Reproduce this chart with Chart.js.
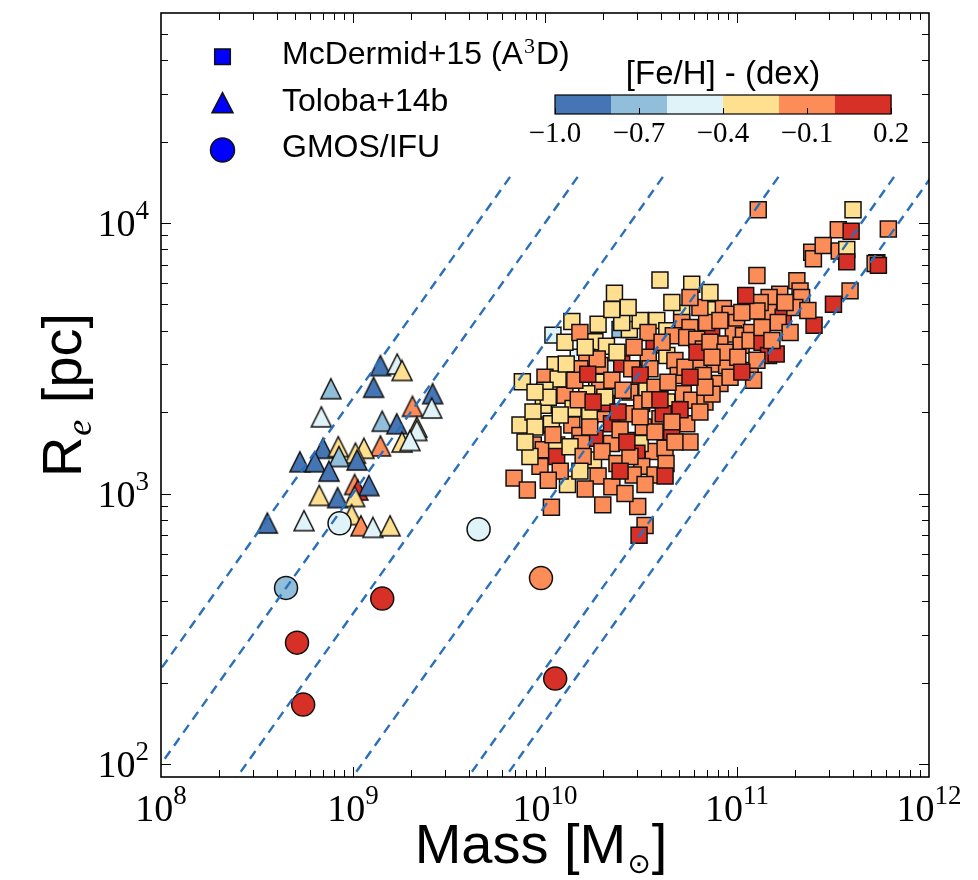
<!DOCTYPE html>
<html>
<head>
<meta charset="utf-8">
<script src="https://cdn.jsdelivr.net/npm/chart.js@4/dist/chart.umd.min.js"></script>
<style>
  html, body { margin: 0; padding: 0; background: #ffffff; }
  #c { display: block; }
</style>
</head>
<body>
<canvas id="c" width="978" height="880"></canvas>
<script>
// ---- ATLAS3D galaxies (McDermid+15): stellar mass [Msun], effective radius [pc], [Fe/H] [dex]
const a3dMass = [
  3.37e11, 3.93e11, 6.14e11, 2.45e11, 2.50e11, 2.81e11, 3.41e11, 3.73e11, 3.73e11, 5.35e11,
  5.24e11, 5.45e11, 1.27e11, 3.97e10, 5.81e10, 2.30e10, 2.05e11, 2.13e11, 2.17e11, 1.67e11,
  1.47e11, 3.18e11, 3.88e11, 2.52e11, 1.17e11, 1.46e11, 1.74e11, 1.64e11, 7.23e10, 8.49e10,
  9.20e10, 9.96e10, 1.32e11, 1.27e11, 5.15e10, 3.82e10, 1.38e10, 1.10e10, 2.46e10, 2.75e10,
  2.51e10, 5.15e10, 5.69e10, 7.38e10, 6.95e10, 9.57e10, 1.08e11, 1.19e11, 8.15e10, 1.05e11,
  1.17e11, 1.35e11, 1.46e11, 1.60e11, 1.17e11, 1.22e11, 4.31e10, 4.66e10, 5.47e10, 3.70e10,
  6.17e10, 6.68e10, 7.84e10, 1.82e10, 2.09e10, 1.49e10, 1.65e10, 1.13e10, 1.00e10, 1.17e10,
  7.62e9,  2.14e10, 2.51e10, 2.83e10, 4.31e10, 3.45e10, 3.52e10, 4.75e10, 4.94e10, 6.41e10,
  7.67e10, 8.83e10, 6.68e10, 8.15e10, 1.93e10, 1.52e10, 1.86e10, 1.93e10, 1.65e10, 1.27e10,
  1.00e10, 9.80e9,  1.40e10, 1.71e10, 2.06e10, 2.09e10, 2.77e10, 3.39e10, 2.66e10, 3.19e10,
  4.31e10, 3.97e10, 4.13e10, 5.25e10, 5.81e10, 6.81e10, 5.47e10, 4.57e10, 7.41e9,  1.00e10,
  1.08e10, 1.38e10, 1.52e10, 1.82e10, 1.71e10, 2.22e10, 2.22e10, 2.77e10, 3.25e10, 3.66e10,
  4.22e10, 3.13e10, 8.69e9,  9.80e9,  1.15e10, 1.15e10, 1.79e10, 1.55e10, 3.01e10, 3.19e10,
  2.88e10, 3.74e10, 6.90e9,  8.09e9,  1.31e10, 1.08e10, 2.00e10, 3.04e10, 3.32e10, 3.09e10,
  1.29e11, 4.02e11,
  1.27e10, 1.52e10, 1.89e10, 3.13e10, 3.44e10, 4.07e10, 2.91e10, 2.37e10, 1.87e10, 1.29e10,
  1.43e10, 1.67e10, 2.23e10, 2.55e10, 3.13e10, 3.74e10, 4.37e10, 5.36e10, 6.19e10, 7.23e10,
  8.66e10, 1.01e11, 1.35e11, 1.52e11, 1.89e11, 2.00e11, 1.78e11, 2.34e11, 9.20e10, 7.41e10,
  6.41e10, 5.05e10, 3.74e10, 3.13e10, 2.46e10, 2.05e10, 1.49e10, 1.20e10, 1.10e10, 1.35e10,
  1.58e10, 1.98e10, 2.37e10, 2.77e10, 2.40e10, 3.52e10, 4.58e10, 5.69e10, 6.81e10, 5.69e10,
  1.20e10, 1.52e10, 1.89e10, 2.23e10, 2.61e10, 1.62e10, 9.42e9,  8.35e9,  1.04e10, 2.46e10,
  4.27e10, 4.75e10, 3.97e10, 1.06e11, 1.11e11, 8.15e10, 6.41e10, 4.58e10, 5.69e10, 7.23e10,
  2.71e10, 2.23e10, 1.62e10, 1.78e10, 1.04e10, 8.66e9,  8.87e9,  8.87e9,  7.87e9,  2.67e10,
  3.32e10, 4.22e10, 7.41e10, 1.27e11, 1.06e11
];
const a3dRe = [
  9440, 9310, 9500, 7800, 7380, 8260, 7870, 7980, 7180, 7130,
  7080, 6970, 6400, 6150, 5930, 5500, 6110, 5610, 5300, 5450,
  5300, 5010, 5610, 4190, 5010, 4670, 4480, 4290, 4780, 4830,
  4600, 4290, 5080, 4730, 4640, 4360, 4320, 3850, 4040, 4040,
  4290, 4290, 4110, 3940, 4290, 3890, 3830, 3940, 3570, 3530,
  3680, 3620, 3240, 3280, 2850, 2620, 4000, 3830, 3770, 3540,
  3720, 3420, 3280, 3640, 3500, 3190, 3190, 2990, 2690, 2650,
  2590, 2890, 3010, 2890, 3240, 3190, 2890, 3100, 2730, 3060,
  3010, 2970, 2730, 2550, 2970, 2890, 2580, 2410, 2340, 2310,
  2410, 2120, 2060, 1950, 1970, 2150, 2370, 2440, 1970, 2150,
  2180, 1890, 1970, 2340, 2210, 2180, 1810, 1690, 1790, 1790,
  1810, 1790, 1640, 1600, 1760, 1530, 1810, 1570, 1760, 1430,
  1470, 1530, 1510, 1450, 1510, 1370, 1330, 1530, 1410, 1260,
  1170, 1170, 1140, 1030, 1080,  889,  908,  896,  762,  701,
  11200, 11200,
  3620, 3940, 4220, 4360, 3940, 3620, 3470, 3330, 3140, 3010,
  2620, 2760, 2620, 2410, 2740, 2470, 2580, 2930, 3330, 3620,
  3330, 3190, 4110, 3680, 3940, 4870, 5080, 4750, 2690, 2330,
  2000, 2040, 1690, 1920, 1720, 2270, 2220, 1950, 1650, 1490,
  1370, 1430, 1290, 1370, 2000, 2220, 1840, 1550, 2470, 2690,
  1210, 1210, 1160, 1060, 1000, 1040, 1260, 1370, 1120, 1210,
  1290, 1550, 2220, 4670, 5390, 4360, 4870, 5080, 5300, 5530,
  4870, 4790, 3470, 2180, 2270, 2000, 2370, 1760, 1550, 1550,
  1080, 1160, 3190, 3110, 2810
];
const a3dFeH = [
  -0.1, 0.1, -0.1, -0.1, -0.1, -0.1, -0.1, -0.3, 0.1, 0.1,
  -0.1, 0.1, -0.1, -0.3, -0.3, -0.3, -0.1, -0.1, -0.1, -0.1,
  -0.1, 0.1, -0.1, 0.1, -0.3, -0.1, 0.1, -0.1, -0.3, -0.1,
  -0.1, -0.1, -0.1, -0.1, -0.3, -0.3, -0.3, -0.5, -0.7, -0.3,
  -0.3, -0.1, -0.1, 0.1, -0.1, -0.1, -0.1, -0.1, -0.1, -0.1,
  -0.1, 0.1, 0.1, 0.1, -0.1, -0.1, -0.3, -0.1, -0.1, 0.1,
  -0.1, -0.1, -0.1, -0.3, -0.3, -0.5, -0.1, -0.3, -0.1, -0.3,
  -0.3, -0.5, 0.1, -0.1, -0.3, -0.1, -0.1, -0.1, -0.1, -0.1,
  -0.1, -0.1, -0.1, -0.1, -0.1, -0.1, -0.3, -0.1, -0.3, -0.1,
  -0.3, -0.3, -0.3, -0.3, -0.1, 0.1, -0.1, -0.3, -0.1, -0.1,
  -0.3, -0.1, 0.1, -0.1, -0.1, -0.1, -0.1, 0.1, -0.3, -0.3,
  -0.3, -0.1, -0.1, 0.1, -0.1, -0.1, 0.1, -0.1, -0.1, -0.1,
  -0.1, -0.3, -0.1, -0.1, -0.3, 0.1, -0.3, -0.1, 0.1, -0.1,
  -0.1, -0.1, -0.1, -0.1, -0.3, -0.1, -0.1, -0.1, -0.1, 0.1,
  -0.1, -0.3,
  -0.3, -0.1, -0.3, -0.3, -0.1, -0.1, -0.1, -0.3, -0.1, -0.3,
  -0.1, 0.1, -0.1, -0.1, 0.1, -0.1, -0.1, -0.1, 0.1, -0.1,
  -0.1, -0.1, -0.1, -0.1, -0.1, -0.1, -0.1, -0.1, -0.1, -0.1,
  -0.1, 0.1, -0.1, -0.1, -0.1, -0.3, -0.1, -0.3, -0.1, -0.3,
  -0.1, -0.1, -0.1, -0.1, 0.1, -0.1, -0.1, -0.1, -0.1, 0.1,
  -0.1, -0.3, -0.1, -0.1, -0.1, -0.1, -0.1, -0.3, -0.1, 0.1,
  -0.1, -0.1, 0.1, -0.1, 0.1, -0.1, -0.1, -0.3, -0.1, -0.3,
  -0.3, -0.3, -0.3, 0.1, -0.3, -0.3, -0.3, -0.3, -0.3, 0.1,
  -0.1, 0.1, -0.1, -0.1, 0.1
];

// ---- Toloba+14b dwarf early-types
const tolobaMass = [
  1.39e9, 1.70e9, 1.80e9, 7.67e8, 1.28e9, 2.60e9, 2.04e9, 2.57e9, 6.84e8, 1.42e9,
  1.69e9, 2.15e9, 2.15e9, 1.80e9, 1.98e9, 6.98e8, 8.38e8, 1.39e9, 1.14e9, 1.03e9,
  8.45e8, 5.29e8, 6.34e8, 1.05e9, 7.50e8, 1.02e9, 1.06e9, 1.21e9, 6.67e8, 8.32e8,
  1.02e9, 3.58e8, 5.56e8, 9.84e8, 1.10e9, 1.27e9, 1.56e9
];
const tolobaRe = [
  2970, 3010, 2850, 2440, 2470, 2340, 2100, 2070, 1920, 1850,
  1810, 1760, 1710, 1550, 1570, 1470, 1490, 1500, 1470, 1410,
  1370, 1310, 1310, 1330, 1210, 1080, 1030, 1070, 984, 966,
  975, 778, 794, 836, 760, 750, 760
];
const tolobaFeH = [
  -0.9, -0.5, -0.3, -0.7, -0.9, -0.9, -0.1, -0.5, -0.5, -0.7,
  -0.9, -0.3, -0.5, -0.3, -0.5, -0.9, -0.3, -0.1, -0.3, -0.3,
  -0.7, -0.9, -0.9, -0.9, -0.9, -0.1, 0.1, -0.9, -0.3, -0.9,
  -0.3, -0.9, -0.5, -0.3, -0.1, -0.5, -0.3
];

// ---- GMOS/IFU sample
const gmosMass = [4.48e8, 5.11e8, 5.50e8, 8.51e8, 1.42e9, 4.51e9, 9.53e9, 1.13e10];
const gmosRe   = [448, 281, 166, 776, 409, 738, 487, 207];
const gmosFeH  = [-0.7, 0.1, 0.1, -0.5, 0.1, -0.5, -0.1, 0.1];

// ---- lines of constant velocity dispersion: M = K * sigma^2 * Re
const sigmaLines = [10, 15, 25, 50, 100, 125];   // km/s
const K_VIR = 1e6 / 225;                          // Msun pc^-1 (km/s)^-2
const lineRe = [14800, 10];                       // pc, drawn from the upper end down

// ---- colour bar
const fehTicks = [-1.0, -0.7, -0.4, -0.1, 0.2];
const fehMin = -1.0, fehMax = 0.2;
const fehColors = ['#4575b4', '#91bfdb', '#e0f3f8', '#fee090', '#fc8d59', '#d73027'];

// ---- axes
const massRange = [1e8, 1e12];
const reRange = [89.6, 59700];
const massDecades = [8, 9, 10, 11, 12];
const reDecades = [2, 3, 4];

const SERIF = '"Liberation Serif", "DejaVu Serif", serif';
const SANS = '"Liberation Sans", Arial, sans-serif';
const EDGE = '#111111';

function fehColor(v) {
  const step = (fehMax - fehMin) / fehColors.length;
  let i = Math.floor((v - fehMin) / step + 1e-9);
  i = Math.max(0, Math.min(fehColors.length - 1, i));
  return fehColors[i];
}

function triangleImage(fill, size) {
  const pad = 2, c = document.createElement('canvas');
  c.width = c.height = size + 2 * pad;
  const g = c.getContext('2d');
  g.beginPath();
  g.moveTo(pad + size / 2, pad);
  g.lineTo(pad + size, pad + size);
  g.lineTo(pad, pad + size);
  g.closePath();
  g.fillStyle = fill; g.fill();
  g.lineWidth = 1.5; g.strokeStyle = EDGE; g.lineJoin = 'miter'; g.stroke();
  return c;
}

const pts = (ms, rs) => ms.map((m, i) => ({ x: m, y: rs[i] }));

const lineSets = sigmaLines.map(s => ({
  type: 'line',
  data: lineRe.map(r => ({ x: K_VIR * s * s * r, y: r })),
  borderColor: '#2a6fba',
  borderWidth: 2.4,
  borderDash: [9.5, 6.5],
  pointRadius: 0,
  fill: false,
  clip: 0
}));

const datasets = [
  ...lineSets,
  {
    label: 'GMOS/IFU',
    data: pts(gmosMass, gmosRe),
    pointStyle: 'circle',
    pointRadius: 11.5,
    backgroundColor: gmosFeH.map(fehColor),
    borderColor: EDGE,
    borderWidth: 1.5
  },
  {
    label: 'Toloba+14b',
    data: pts(tolobaMass, tolobaRe),
    pointStyle: tolobaFeH.map(v => triangleImage(fehColor(v), 20)),
    pointRadius: 11,
    backgroundColor: tolobaFeH.map(fehColor),
    borderColor: EDGE,
    borderWidth: 1.5
  },
  {
    label: 'McDermid+15',
    data: pts(a3dMass, a3dRe),
    pointStyle: 'rect',
    pointRadius: 11.3,
    backgroundColor: a3dFeH.map(fehColor),
    borderColor: EDGE,
    borderWidth: 1.5
  }
];

// x^n style label: base and superscript
function drawPower(ctx, base, exp, x, y, align, baseSize, expSize, rise) {
  ctx.font = baseSize + 'px ' + SERIF;
  const wb = ctx.measureText(base).width;
  ctx.font = expSize + 'px ' + SERIF;
  const we = ctx.measureText(exp).width;
  const total = wb + we;
  let x0 = align === 'center' ? x - total / 2 : (align === 'right' ? x - total : x);
  ctx.textAlign = 'left';
  ctx.textBaseline = 'alphabetic';
  ctx.font = baseSize + 'px ' + SERIF;
  ctx.fillText(base, x0, y);
  ctx.font = expSize + 'px ' + SERIF;
  ctx.fillText(exp, x0 + wb, y - rise);
}

const decorations = {
  id: 'decorations',
  afterDatasetsDraw(chart) {
    const { ctx, chartArea: a, scales } = chart;
    const xs = scales.x, ys = scales.y;
    ctx.save();
    ctx.fillStyle = '#000';
    ctx.strokeStyle = '#000';

    // inward ticks on all four sides
    ctx.lineWidth = 1;
    const seg = (x1, y1, x2, y2) => { ctx.beginPath(); ctx.moveTo(x1, y1); ctx.lineTo(x2, y2); ctx.stroke(); };
    for (let d = 7; d <= 12; d++) {
      for (let k = 1; k <= 9; k++) {
        const v = k * Math.pow(10, d);
        if (v < massRange[0] * 1.001 || v > massRange[1] * 0.999) continue;
        const px = Math.round(xs.getPixelForValue(v)) + 0.5;
        const len = k === 1 ? 10 : 7;
        seg(px, a.bottom, px, a.bottom - len);
        seg(px, a.top, px, a.top + len);
      }
    }
    for (let d = 1; d <= 4; d++) {
      for (let k = 1; k <= 9; k++) {
        const v = k * Math.pow(10, d);
        if (v < reRange[0] * 1.01 || v > reRange[1] * 0.99) continue;
        const py = Math.round(ys.getPixelForValue(v)) + 0.5;
        const len = k === 1 ? 10 : 7;
        seg(a.left, py, a.left + len, py);
        seg(a.right, py, a.right - len, py);
      }
    }

    // frame
    ctx.lineWidth = 1.6;
    ctx.strokeRect(a.left, a.top, a.right - a.left, a.bottom - a.top);

    // tick labels
    massDecades.forEach(d => {
      const px = xs.getPixelForValue(Math.pow(10, d));
      drawPower(ctx, '10', String(d), px, 821, 'center', 38, 27, 17);
    });
    reDecades.forEach(d => {
      const py = ys.getPixelForValue(Math.pow(10, d));
      drawPower(ctx, '10', String(d), 149, py + 13, 'right', 38, 27, 17);
    });

    // x title: Mass [M_sun]
    {
      const big = '56px ' + SANS;
      const sunFont = '28px "DejaVu Sans", sans-serif';
      ctx.font = big;
      const w1 = ctx.measureText('Mass [M').width;
      ctx.font = sunFont;
      const w2 = ctx.measureText('\u2299').width;
      ctx.font = big;
      const w3 = ctx.measureText(']').width;
      const x0 = 540 - (w1 + w2 + w3) / 2;
      const yb = 863;
      ctx.textAlign = 'left';
      ctx.font = big; ctx.fillText('Mass [M', x0, yb);
      ctx.font = sunFont; ctx.fillText('\u2299', x0 + w1 + 1, yb + 10);
      ctx.font = big; ctx.fillText(']', x0 + w1 + w2 + 2, yb);
    }

    // y title: R_e [pc]
    {
      ctx.save();
      ctx.translate(81, 396);
      ctx.rotate(-Math.PI / 2);
      const big = '56px ' + SANS;
      const sub = 'italic 36px ' + SERIF;
      ctx.font = big; const wR = ctx.measureText('R').width;
      ctx.font = sub; const wE = ctx.measureText('e').width;
      ctx.font = big; const wP = ctx.measureText(' [pc]').width;
      const x0 = -(wR + wE + wP) / 2;
      ctx.textAlign = 'left';
      ctx.font = big; ctx.fillText('R', x0, 0);
      ctx.font = sub; ctx.fillText('e', x0 + wR + 1, 10);
      ctx.font = big; ctx.fillText(' [pc]', x0 + wR + wE + 2, 0);
      ctx.restore();
    }

    // legend
    {
      const mx = 222.5, tx = 282;
      ctx.lineWidth = 1.5; ctx.strokeStyle = EDGE; ctx.fillStyle = '#0000ff';
      ctx.beginPath(); ctx.rect(mx - 7.8, 56.7 - 7.8, 15.6, 15.6); ctx.fill(); ctx.stroke();
      ctx.beginPath(); ctx.moveTo(mx, 92.7); ctx.lineTo(mx + 10.5, 112.7); ctx.lineTo(mx - 10.5, 112.7); ctx.closePath(); ctx.fill(); ctx.stroke();
      ctx.beginPath(); ctx.arc(mx, 150, 12, 0, 2 * Math.PI); ctx.fill(); ctx.stroke();

      ctx.fillStyle = '#000'; ctx.textAlign = 'left'; ctx.textBaseline = 'alphabetic';
      const lf = '32px ' + SANS;
      ctx.font = lf;
      const part1 = 'McDermid+15 (A';
      ctx.fillText(part1, tx, 64);
      const w1 = ctx.measureText(part1).width;
      ctx.font = '22px ' + SERIF;
      ctx.fillText('3', tx + w1 + 1, 53);
      const w2 = ctx.measureText('3').width;
      ctx.font = lf;
      ctx.fillText('D)', tx + w1 + w2 + 2, 64);
      ctx.fillText('Toloba+14b', tx, 111);
      ctx.fillText('GMOS/IFU', tx, 157);
    }

    // colour bar
    {
      const L = 555, R = 891, T = 95, B = 114;
      const n = fehColors.length, w = (R - L) / n;
      fehColors.forEach((c, i) => { ctx.fillStyle = c; ctx.fillRect(L + i * w, T, w + 0.5, B - T); });
      ctx.lineWidth = 1.2; ctx.strokeStyle = '#000';
      ctx.strokeRect(L, T, R - L, B - T);
      ctx.lineWidth = 1;
      ctx.fillStyle = '#000';
      ctx.textAlign = 'center';
      ctx.font = '29px ' + SERIF;
      fehTicks.forEach(v => {
        const px = L + (v - fehMin) / (fehMax - fehMin) * (R - L);
        const rx = Math.round(px) + 0.5;
        seg(rx, B, rx, B - 6);
        const txt = (v < 0 ? '\u2212' : '') + Math.abs(v).toFixed(1);
        ctx.fillText(txt, px, 142);
      });
      ctx.font = '33px ' + SANS;
      ctx.fillText('[Fe/H] - (dex)', (L + R) / 2, 84);
    }

    ctx.restore();
  }
};

new Chart(document.getElementById('c'), {
  type: 'scatter',
  data: { datasets },
  options: {
    responsive: false,
    animation: false,
    events: [],
    layout: { padding: { top: 9, right: 49, left: 0, bottom: 0 } },
    plugins: { legend: { display: false }, tooltip: { enabled: false } },
    scales: {
      x: {
        type: 'logarithmic',
        min: massRange[0], max: massRange[1],
        ticks: { display: false },
        grid: { display: false },
        border: { display: false },
        afterFit: s => { s.height = 103; }
      },
      y: {
        type: 'logarithmic',
        min: reRange[0], max: reRange[1],
        ticks: { display: false },
        grid: { display: false },
        border: { display: false },
        afterFit: s => { s.width = 161; }
      }
    }
  },
  plugins: [decorations]
});
</script>
</body>
</html>
